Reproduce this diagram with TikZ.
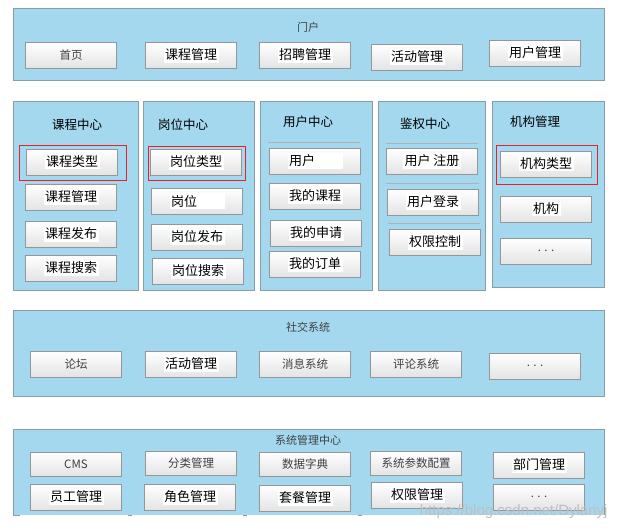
\documentclass[tikz,border=0pt]{standalone}
\usepackage{fontspec}
\setmainfont{Noto Sans CJK SC}
\newfontfamily\wmfont{Liberation Sans}
\usetikzlibrary{shadows}
\definecolor{panelblue}{HTML}{A4D8EE}
\definecolor{panelline}{HTML}{8C9CA4}
\definecolor{btnline}{HTML}{969696}
\definecolor{btnbot}{HTML}{E4E4E4}
\definecolor{txtgray}{HTML}{404040}
\definecolor{frame}{HTML}{E8202A}
\newcommand\pst[1]{{\setlength{\fboxsep}{1.5pt}\colorbox{white}{#1}}}
\tikzset{
  panel/.style={draw=panelline, fill=panelblue, line width=0.8pt},
  ptitle/.style={font=\fontsize{11}{12}\selectfont, text=txtgray},
  ctitle/.style={font=\fontsize{12.5}{14}\selectfont, text=black},
  btn/.style={rectangle, draw=btnline, line width=0.7pt, top color=white, bottom color=btnbot,
    minimum width=91pt, minimum height=26pt, inner sep=0pt,
    drop shadow={shadow xshift=0.8pt, shadow yshift=-0.8pt, fill=gray!70, opacity=1},
    font=\fontsize{11.5}{13}\selectfont, text=txtgray},
  pbtn/.style={btn, font=\fontsize{13}{15}\selectfont, text=black},
  redframe/.style={draw=frame, line width=0.7pt},
  sepline/.style={draw=gray!60, line width=0.9pt},
}
\begin{document}
\begin{tikzpicture}[x=1pt,y=-1pt]
\useasboundingbox[fill=white] (0,0) rectangle (620,530);
% ---------- Portal ----------
\draw[panel] (13,8) rectangle (604,80);
\node[ptitle] (portal) at (308,27) {门户};
\node[btn] (p1) at (71,55) {首页};
\node[pbtn] (p2) at (191,55) {\pst{课程管理}};
\node[pbtn] (p3) at (305,55) {\pst{招聘管理}};
\node[pbtn] (p4) at (417,57) {\pst{活动管理}};
\node[pbtn] (p5) at (535,53) {\pst{用户管理}};
% ---------- Middle columns ----------
\draw[panel] (13,101) rectangle (138,290);
\draw[panel] (143,101) rectangle (254,290);
\draw[panel] (260,101) rectangle (372,290);
\draw[panel] (378,101) rectangle (485,290);
\draw[panel] (492,101) rectangle (604,287);
% course center
\node[ctitle] (c0) at (77,125) {课程中心};
\node[pbtn] (c1) at (72,162) {\pst{课程类型}};
\draw[redframe] (19,145) rectangle (126,180);
\node[pbtn] (c2) at (71,197) {\pst{课程管理}};
\node[pbtn] (c3) at (71,234) {\pst{课程发布}};
\node[pbtn] (c4) at (71,268) {\pst{课程搜索}};
% job center
\node[ctitle] (j0) at (183,125) {岗位中心};
\node[pbtn] (j1) at (196,162) {\pst{岗位类型}};
\draw[redframe] (148,146) rectangle (245,180);
\node[pbtn] (j2) at (197,201) {\pst{岗位\hspace{2em}}};
\node[pbtn] (j3) at (197,237) {\pst{岗位发布}};
\node[pbtn] (j4) at (198,271) {\pst{岗位搜索}};
% user center
\node[ctitle] (u0) at (308,122) {用户中心};
\draw[sepline] (268,142) -- (360,142);
\node[pbtn] (u1) at (315,161) {\pst{用户\hspace{2em}}};
\node[pbtn] (u2) at (315,196) {\pst{我的课程}};
\node[pbtn] (u3) at (316,233) {\pst{我的申请}};
\node[pbtn] (u4) at (315,264) {\pst{我的订单}};
% auth center
\node[ctitle] (a0) at (425,124) {鉴权中心};
\draw[sepline] (386,143) -- (478,143);
\node[pbtn] (a1) at (432,161) {\pst{用户 注册}};
\draw[sepline] (386,183) -- (479,183);
\node[pbtn] (a2) at (433,202) {\pst{用户登录}};
\draw[sepline] (388,223) -- (480,223);
\node[pbtn] (a3) at (435,242) {\pst{权限控制}};
% org management
\node[ctitle] (o0) at (535,122) {机构管理};
\node[pbtn] (o1) at (546,164) {\pst{机构类型}};
\draw[redframe] (496,145) rectangle (597,184);
\node[pbtn] (o2) at (546,209) {\pst{机构}};
\node[btn] (o3) at (546,251) {. . .};
% ---------- Social ----------
\draw[panel] (13,310) rectangle (604,396);
\node[ptitle] (s0) at (308,327) {社交系统};
\node[btn] (s1) at (76,364) {论坛};
\node[pbtn] (s2) at (191,364) {\pst{活动管理}};
\node[btn] (s3) at (305,364) {消息系统};
\node[btn] (s4) at (416,364) {评论系统};
\node[btn] (s5) at (535,366) {. . .};
% ---------- System management ----------
\fill[panelblue] (13,429) rectangle (604,515);
\draw[panel, fill=none] (13,515) -- (13,429) -- (604,429) -- (604,515);
\draw[panelline, line width=0.8pt] (13,515) -- (20,515) (128,515) -- (132,515) (243,515) -- (247,515) (358,515) -- (362,515);
\node[ptitle] (m0) at (308,440) {系统管理中心};
\node[btn, minimum height=24pt] (m1) at (76,464) {CMS};
\node[btn, minimum height=24pt] (m2) at (191,463) {分类管理};
\node[btn, minimum height=24pt] (m3) at (305,464) {数据字典};
\node[btn, minimum height=24pt] (m4) at (416,463) {系统参数配置};
\node[pbtn] (m5) at (539,465) {\pst{部门管理}};
\node[pbtn] (m6) at (76,497) {\pst{员工管理}};
\node[pbtn] (m7) at (190,497) {\pst{角色管理}};
\node[pbtn] (m8) at (305,498) {\pst{套餐管理}};
\node[pbtn] (m9) at (417,495) {\pst{权限管理}};
\node[btn] (m10) at (539,497) {. . .};
% watermark
\node[font=\wmfont\fontsize{15}{17}\selectfont, text=gray!50, anchor=east] (wm) at (611,512) {https://blog.csdn.net/Dylanyj};
\end{tikzpicture}
\end{document}
